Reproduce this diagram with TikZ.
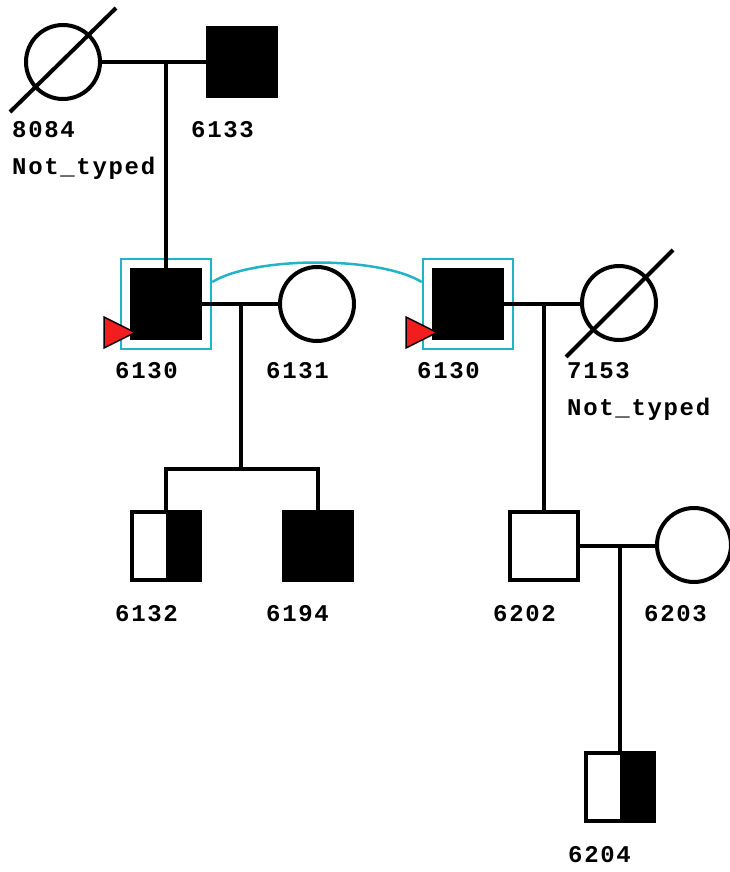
\documentclass[tikz,border=0pt]{standalone}
\usepackage{fontspec}
\setmonofont{Liberation Mono}[LetterSpace=7]
\definecolor{cyanc}{RGB}{32,180,198}
\definecolor{redc}{RGB}{240,30,30}
\begin{document}
\begin{tikzpicture}[x=1pt,y=-1pt,
  sq/.style={rectangle, draw, line width=4pt, minimum size=68pt, inner sep=0pt},
  aff/.style={sq, fill=black},
  ci/.style={circle, draw, line width=4pt, minimum size=74pt, inner sep=0pt},
  lbl/.style={anchor=base west, inner sep=0pt, font=\ttfamily\bfseries\fontsize{24}{24}\selectfont},
  ln/.style={line width=4pt},
  probox/.style={draw=cyanc, line width=2.5pt, minimum size=90pt, inner sep=0pt, rectangle},
  proband/.style={fill=redc, draw=black, line width=1.5pt, line join=miter}
]
\useasboundingbox (0,0) rectangle (730,872);

% generation 1
\node[ci] (p8084) at (63,62) {};
\node[aff] (p6133) at (242,62) {};
\draw[ln] (10,112) -- (116,8);
\node[lbl] (l8084) at (12,137) {8084};
\node[lbl] (n8084) at (12,174) {Not\_typed};
\node[lbl] (l6133) at (191,137) {6133};

% generation 2
\node[probox] (b1) at (166,304) {};
\node[probox] (b2) at (468,304) {};
\node[aff] (p6130a) at (166,304) {};
\node[ci] (p6131) at (317,304) {};
\node[aff] (p6130b) at (468,304) {};
\node[ci] (p7153) at (619,303) {};
\draw[ln] (566,357) -- (673,250);
\draw[cyanc, line width=2.5pt] (b1.east |- 0,282) .. controls (255,256) and (379,256) .. (b2.west |- 0,282);
\draw[proband] (104,317) -- (135,332.5) -- (104,348) -- cycle;
\draw[proband] (406,317) -- (437,332.5) -- (406,348) -- cycle;
\node[lbl] (l6130a) at (115,378) {6130};
\node[lbl] (l6131) at (266,378) {6131};
\node[lbl] (l6130b) at (417,378) {6130};
\node[lbl] (l7153) at (567,378) {7153};
\node[lbl] (n7153) at (567,415) {Not\_typed};

% generation 3
\node[sq] (p6132) at (166,546) {};
\fill[black] (p6132.north) rectangle (p6132.south east);
\node[aff] (p6194) at (318,546) {};
\node[sq] (p6202) at (544,546) {};
\node[ci] (p6203) at (694,545) {};
\node[lbl] (l6132) at (115,621) {6132};
\node[lbl] (l6194) at (266,621) {6194};
\node[lbl] (l6202) at (493,621) {6202};
\node[lbl] (l6203) at (644,621) {6203};

% generation 4
\node[sq] (p6204) at (620,787) {};
\fill[black] (p6204.north) rectangle (p6204.south east);
\node[lbl] (l6204) at (568,862) {6204};

% connectors
\coordinate (m1) at (166,62);
\draw[ln] (p8084.east) -- (p6133.west);
\draw[ln] (m1) -- (p6130a.north);

\coordinate (m2) at (241,304);
\coordinate (s2) at (241,469);
\draw[ln] (p6130a.east) -- (p6131.west);
\draw[ln] (m2) -- (s2);
\draw[ln] (p6132.north) |- (s2) -| (p6194.north);

\coordinate (m3) at (544,304);
\draw[ln] (p6130b.east) -- (p7153.west |- m3);
\draw[ln] (m3) -- (p6202.north);

\coordinate (m4) at (620,546);
\draw[ln] (p6202.east) -- (p6203.west |- m4);
\draw[ln] (m4) -- (p6204.north);
\end{tikzpicture}
\end{document}
